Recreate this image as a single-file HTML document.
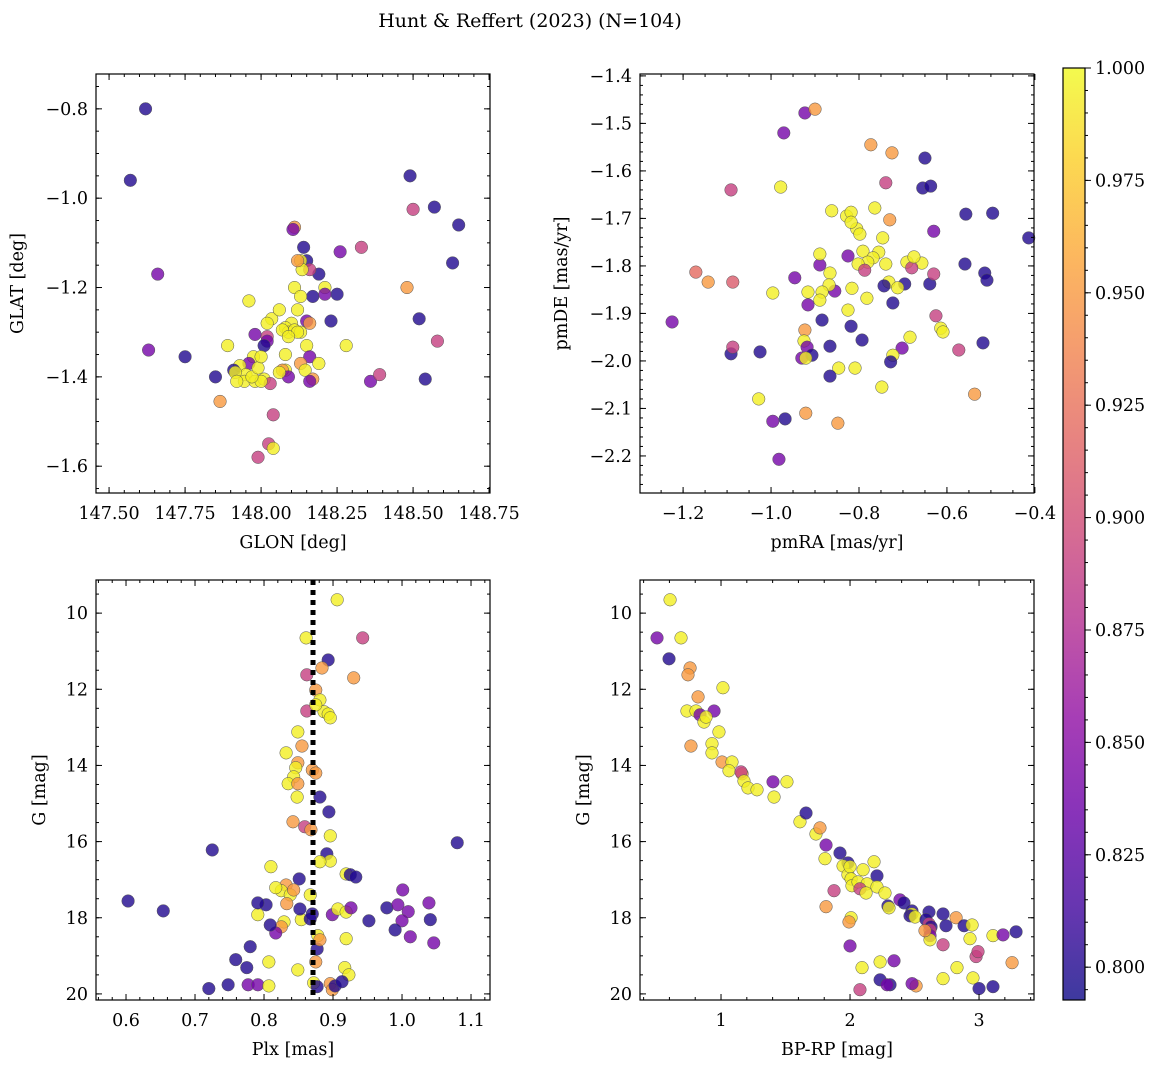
<!DOCTYPE html>
<html><head><meta charset="utf-8"><style>
body{margin:0;background:#fff;}
svg text{font-family:"DejaVu Serif","Liberation Serif",serif;fill:#000;}
</style></head><body>
<svg id="fig" width="1160" height="1068" xmlns="http://www.w3.org/2000/svg">
<defs>
<linearGradient id="plasmaGrad" x1="0" y1="1" x2="0" y2="0">
<stop offset="0" stop-color="#0d0887"/><stop offset="0.1" stop-color="#41049d"/><stop offset="0.2" stop-color="#6a00a8"/><stop offset="0.3" stop-color="#8f0da4"/><stop offset="0.4" stop-color="#b12a90"/><stop offset="0.5" stop-color="#cc4778"/><stop offset="0.6" stop-color="#e16462"/><stop offset="0.7" stop-color="#f2844b"/><stop offset="0.8" stop-color="#fca636"/><stop offset="0.9" stop-color="#fcce25"/><stop offset="1" stop-color="#f0f921"/>
</linearGradient>
</defs>
<text x="530" y="27" font-size="19" text-anchor="middle">Hunt &amp; Reffert (2023) (N=104)</text>
</svg>
<script>
// ---- data (value arrays) ----
const skyPoints=[[147.62,-0.80,0.80],[147.57,-0.96,0.80],[147.66,-1.17,0.84],[147.63,-1.34,0.84],[147.75,-1.355,0.80],[148.49,-0.95,0.80],[148.50,-1.025,0.89],[148.57,-1.02,0.80],[148.65,-1.06,0.80],[148.63,-1.145,0.80],[148.48,-1.20,0.95],[148.52,-1.27,0.80],[148.54,-1.405,0.80],[148.58,-1.32,0.89],[148.33,-1.11,0.89],[148.26,-1.12,0.84],[148.25,-1.215,0.80],[148.23,-1.275,0.80],[148.28,-1.33,0.995],[148.36,-1.41,0.84],[148.39,-1.395,0.89],[148.21,-1.20,0.995],[148.21,-1.215,0.84],[148.19,-1.17,0.80],[148.17,-1.22,0.80],[148.14,-1.11,0.80],[148.15,-1.14,0.80],[148.16,-1.16,0.89],[148.13,-1.14,0.995],[148.135,-1.16,0.995],[148.12,-1.14,0.95],[148.11,-1.065,0.95],[148.105,-1.07,0.84],[148.11,-1.20,0.995],[148.13,-1.22,0.995],[148.15,-1.275,0.84],[148.16,-1.28,0.95],[148.12,-1.25,0.995],[148.10,-1.28,0.995],[148.08,-1.29,0.995],[148.09,-1.30,0.995],[148.07,-1.295,0.995],[148.11,-1.295,0.995],[148.13,-1.30,0.995],[148.15,-1.33,0.995],[148.12,-1.30,0.995],[148.09,-1.31,0.995],[148.16,-1.355,0.84],[148.13,-1.37,0.95],[148.145,-1.385,0.995],[148.08,-1.385,0.995],[148.07,-1.385,0.95],[148.09,-1.40,0.84],[148.17,-1.405,0.95],[148.08,-1.35,0.995],[148.035,-1.27,0.995],[148.06,-1.25,0.995],[148.02,-1.28,0.995],[148.02,-1.31,0.89],[148.02,-1.32,0.84],[148.01,-1.33,0.80],[147.98,-1.305,0.84],[147.975,-1.355,0.995],[147.96,-1.37,0.84],[147.96,-1.23,0.995],[147.93,-1.375,0.995],[147.91,-1.385,0.80],[147.95,-1.395,0.995],[147.945,-1.41,0.995],[147.98,-1.41,0.995],[148.01,-1.405,0.995],[148.03,-1.415,0.89],[148.00,-1.41,0.995],[147.97,-1.40,0.995],[147.915,-1.39,0.995],[147.89,-1.33,0.995],[147.865,-1.455,0.95],[147.85,-1.40,0.80],[147.92,-1.41,0.995],[148.04,-1.485,0.89],[148.025,-1.55,0.89],[148.04,-1.56,0.995],[147.99,-1.58,0.89],[148.16,-1.41,0.84],[147.99,-1.38,0.995],[148.06,-1.39,0.995],[148.00,-1.355,0.995],[148.19,-1.37,0.995]];
const pmPoints=[[-0.923,-1.478,0.84],[-0.900,-1.470,0.95],[-0.971,-1.520,0.84],[-1.091,-1.640,0.89],[-0.978,-1.634,0.995],[-0.773,-1.545,0.95],[-0.725,-1.562,0.95],[-0.739,-1.625,0.89],[-0.650,-1.573,0.80],[-0.655,-1.636,0.80],[-0.637,-1.632,0.80],[-0.730,-1.703,0.95],[-0.764,-1.678,0.995],[-0.557,-1.691,0.80],[-0.496,-1.689,0.80],[-0.414,-1.741,0.80],[-0.630,-1.727,0.84],[-0.657,-1.794,0.995],[-0.862,-1.684,0.995],[-0.828,-1.695,0.995],[-0.818,-1.687,0.995],[-0.805,-1.722,0.995],[-0.818,-1.708,0.995],[-0.798,-1.733,0.995],[-0.791,-1.769,0.995],[-0.755,-1.771,0.995],[-0.768,-1.783,0.995],[-0.780,-1.792,0.995],[-0.802,-1.796,0.995],[-0.825,-1.779,0.84],[-0.787,-1.809,0.89],[-0.746,-1.741,0.995],[-0.739,-1.796,0.995],[-0.732,-1.834,0.995],[-0.782,-1.868,0.995],[-0.816,-1.847,0.995],[-0.855,-1.853,0.84],[-0.866,-1.815,0.995],[-0.868,-1.840,0.995],[-0.825,-1.893,0.995],[-0.889,-1.798,0.84],[-0.884,-1.855,0.995],[-0.889,-1.872,0.995],[-0.818,-1.927,0.80],[-0.743,-1.842,0.80],[-0.723,-1.878,0.80],[-0.696,-1.838,0.80],[-0.712,-1.846,0.995],[-0.691,-1.792,0.995],[-0.680,-1.804,0.89],[-0.675,-1.781,0.995],[-0.639,-1.838,0.80],[-0.630,-1.817,0.89],[-0.559,-1.796,0.80],[-0.514,-1.815,0.80],[-0.509,-1.830,0.80],[-0.625,-1.905,0.89],[-0.614,-1.931,0.995],[-0.609,-1.939,0.995],[-0.684,-1.950,0.995],[-0.702,-1.973,0.84],[-0.723,-1.988,0.995],[-0.728,-2.002,0.80],[-0.748,-2.055,0.995],[-0.518,-1.962,0.80],[-0.573,-1.977,0.89],[-0.537,-2.070,0.95],[-0.793,-1.956,0.80],[-0.809,-2.015,0.995],[-0.846,-2.015,0.995],[-0.866,-1.969,0.80],[-0.866,-2.032,0.80],[-0.884,-1.914,0.80],[-0.916,-1.855,0.995],[-0.916,-1.882,0.84],[-0.923,-1.935,0.95],[-0.925,-1.958,0.995],[-0.918,-1.971,0.84],[-0.907,-1.988,0.80],[-0.930,-1.994,0.84],[-0.921,-1.994,0.995],[-0.848,-2.131,0.95],[-0.921,-2.110,0.95],[-1.028,-2.080,0.995],[-0.968,-2.122,0.80],[-0.996,-2.127,0.84],[-0.982,-2.207,0.84],[-1.225,-1.918,0.84],[-1.171,-1.813,0.92],[-1.143,-1.834,0.95],[-1.087,-1.834,0.91],[-1.091,-1.985,0.80],[-1.087,-1.971,0.89],[-1.025,-1.981,0.80],[-0.996,-1.857,0.995],[-0.946,-1.825,0.84],[-0.889,-1.775,0.995]];
const plxPoints=[[0.906,9.65,0.995],[0.861,10.65,0.995],[0.893,11.23,0.80],[0.943,10.65,0.89],[0.930,11.70,0.95],[0.862,11.62,0.89],[0.884,11.44,0.95],[0.875,12.02,0.95],[0.881,12.28,0.995],[0.887,12.59,0.995],[0.893,12.65,0.995],[0.896,12.75,0.995],[0.862,12.57,0.89],[0.875,12.41,0.995],[0.849,13.12,0.995],[0.855,13.49,0.95],[0.832,13.67,0.995],[0.849,13.93,0.95],[0.846,14.06,0.995],[0.843,14.30,0.995],[0.835,14.48,0.995],[0.849,14.48,0.95],[0.870,14.12,0.95],[0.875,14.20,0.95],[0.848,14.83,0.995],[0.881,14.83,0.80],[0.894,15.22,0.80],[0.842,15.48,0.95],[0.859,15.61,0.89],[0.868,15.69,0.95],[0.896,15.85,0.995],[0.891,16.32,0.80],[0.896,16.51,0.995],[0.881,16.53,0.995],[0.919,16.85,0.995],[0.925,16.87,0.80],[0.933,16.93,0.80],[0.725,16.22,0.80],[1.080,16.03,0.80],[0.810,16.66,0.995],[0.851,16.98,0.80],[0.832,17.14,0.95],[0.825,17.29,0.995],[0.838,17.40,0.995],[0.843,17.27,0.95],[0.817,17.21,0.995],[0.803,17.66,0.80],[0.833,17.63,0.95],[0.867,17.40,0.995],[0.854,18.05,0.995],[0.829,18.11,0.995],[0.825,18.24,0.95],[0.817,18.40,0.84],[0.809,18.19,0.80],[0.791,17.92,0.995],[0.791,17.61,0.80],[0.852,17.77,0.80],[0.870,17.90,0.80],[0.899,17.92,0.84],[0.907,17.77,0.995],[0.919,17.85,0.995],[0.926,17.74,0.84],[0.919,18.55,0.995],[0.878,18.47,0.995],[0.867,18.03,0.80],[0.877,18.82,0.80],[0.881,18.58,0.95],[0.875,19.16,0.95],[0.917,19.31,0.995],[0.923,19.50,0.995],[0.603,17.56,0.80],[0.654,17.82,0.80],[0.952,18.08,0.80],[0.978,17.74,0.80],[0.994,17.66,0.84],[1.001,17.27,0.84],[1.009,17.84,0.84],[1.000,18.08,0.84],[1.012,18.50,0.84],[0.990,18.32,0.80],[1.039,17.61,0.84],[1.041,18.05,0.80],[1.046,18.66,0.84],[0.780,18.76,0.80],[0.807,19.16,0.995],[0.759,19.10,0.80],[0.775,19.31,0.80],[0.777,19.76,0.84],[0.791,19.76,0.84],[0.807,19.79,0.995],[0.849,19.37,0.995],[0.872,19.71,0.995],[0.896,19.73,0.95],[0.899,19.89,0.95],[0.903,19.79,0.80],[0.913,19.68,0.80],[0.748,19.76,0.80],[0.720,19.86,0.80],[0.877,19.81,0.80]];
const cmdPoints=[[0.605,9.65,0.995],[0.504,10.65,0.84],[0.597,11.20,0.80],[0.690,10.65,0.995],[0.760,11.44,0.95],[0.744,11.62,0.95],[0.822,12.20,0.95],[0.736,12.57,0.995],[0.806,12.57,0.995],[0.837,12.67,0.84],[0.946,12.57,0.84],[0.868,12.86,0.995],[0.884,12.73,0.995],[0.767,13.49,0.95],[1.015,11.96,0.995],[0.984,13.12,0.995],[0.930,13.43,0.995],[0.930,13.67,0.995],[1.008,13.91,0.95],[1.085,13.91,0.995],[1.062,14.14,0.995],[1.163,14.22,0.95],[1.155,14.17,0.89],[1.178,14.41,0.995],[1.209,14.59,0.995],[1.279,14.64,0.995],[1.403,14.43,0.84],[1.511,14.43,0.995],[1.411,14.83,0.995],[1.612,15.48,0.995],[1.659,15.25,0.80],[1.736,15.80,0.995],[1.767,15.64,0.95],[1.814,16.09,0.84],[1.922,16.30,0.80],[1.806,16.45,0.995],[1.984,16.56,0.80],[1.946,16.64,0.995],[1.984,16.87,0.995],[2.000,16.66,0.995],[2.008,16.98,0.995],[2.101,16.74,0.995],[2.015,17.16,0.995],[2.062,17.06,0.995],[2.132,17.11,0.995],[2.186,16.53,0.995],[2.209,16.90,0.80],[2.209,17.19,0.995],[2.077,17.24,0.89],[1.876,17.29,0.89],[1.814,17.71,0.95],[2.124,17.35,0.995],[2.271,17.35,0.995],[2.294,17.69,0.80],[2.302,17.74,0.995],[2.387,17.53,0.84],[2.418,17.61,0.80],[2.480,17.82,0.80],[2.480,17.90,0.995],[2.465,17.95,0.80],[2.504,17.98,0.995],[2.612,17.85,0.80],[2.589,18.05,0.80],[2.612,18.16,0.89],[2.628,18.24,0.80],[2.620,18.32,0.89],[2.620,18.47,0.84],[2.620,18.58,0.995],[2.581,18.34,0.95],[2.721,17.90,0.80],[2.744,18.21,0.80],[2.721,18.71,0.89],[2.822,18.00,0.95],[2.884,18.21,0.80],[2.946,18.19,0.995],[2.977,19.02,0.89],[2.930,18.55,0.995],[3.108,18.47,0.995],[3.186,18.45,0.84],[3.287,18.37,0.80],[2.992,18.89,0.89],[2.829,19.31,0.995],[2.721,19.60,0.995],[2.953,19.58,0.995],[3.256,19.18,0.95],[3.108,19.81,0.80],[3.000,19.86,0.80],[2.008,18.00,0.995],[1.992,18.11,0.95],[2.000,18.74,0.84],[2.233,19.16,0.995],[2.341,19.13,0.84],[2.093,19.31,0.995],[2.233,19.63,0.80],[2.310,19.76,0.80],[2.287,19.76,0.84],[2.512,19.79,0.95],[2.481,19.73,0.84],[2.077,19.89,0.89]];
const meanPlx=0.871;
const skyXTicks=[147.50,147.75,148.00,148.25,148.50,148.75];
const skyYTicks=[-0.8,-1.0,-1.2,-1.4,-1.6];
const pmXTicks=[-1.2,-1.0,-0.8,-0.6,-0.4];
const pmYTicks=[-1.4,-1.5,-1.6,-1.7,-1.8,-1.9,-2.0,-2.1,-2.2];
const plxXTicks=[0.6,0.7,0.8,0.9,1.0,1.1];
const magTicks=[10,12,14,16,18,20];
const colTicks=[1,2,3];
const cbTicks=[0.800,0.825,0.850,0.875,0.900,0.925,0.950,0.975,1.000];
const probMin=0.7927, probMax=1.0;

const NS="http://www.w3.org/2000/svg";
const svg=document.getElementById('fig');
const FS=17.5;
function mk(tag,attrs,parent){const e=document.createElementNS(NS,tag);for(const k in attrs)e.setAttribute(k,attrs[k]);(parent||svg).appendChild(e);return e;}
const stops=[[13,8,135],[65,4,157],[106,0,168],[143,13,164],[177,42,144],[204,71,120],[225,100,98],[242,132,75],[252,166,54],[252,206,37],[240,249,33]];
function plasma(v){let t=(v-probMin)/(probMax-probMin);t=Math.max(0,Math.min(1,t))*10;const i=Math.min(9,Math.floor(t)),f=t-i;const a=stops[i],b=stops[i+1];return 'rgb('+a.map((c,j)=>Math.round(c+(b[j]-c)*f)).join(',')+')';}

function panel(o){
  const g=mk('g',{});
  
  
  const sx=v=>o.x0+(v-o.xmin)/(o.xmax-o.xmin)*o.w;
  const sy=v=>o.y0+(o.ytop-v)/(o.ytop-o.ybot)*o.h;
  const pg=mk('g',{},g);
  o.data.forEach(d=>{
    const c=mk('circle',{cx:sx(d[0]),cy:sy(d[1]),r:6.3,fill:plasma(d[2]),'fill-opacity':0.8,stroke:'#555','stroke-width':0.5},pg);
    
    
  });
  if(o.vline!==undefined){
    const l=mk('line',{x1:sx(o.vline),x2:sx(o.vline),y1:o.y0,y2:o.y0+o.h,stroke:'#000','stroke-width':5,'stroke-dasharray':'5,5'},g);
    
    
  }
  const fr=mk('rect',{x:o.x0,y:o.y0,width:o.w,height:o.h,fill:'none',stroke:'#000','stroke-width':1.2},g);
  
  
  const tg=mk('g',{stroke:'#000','stroke-width':1},g);
  for(let v=Math.ceil(Math.min(o.xmin,o.xmax)/o.xminor-1e-6)*o.xminor;v<=Math.max(o.xmin,o.xmax)+1e-9;v+=o.xminor){const x=sx(v);mk('line',{x1:x,x2:x,y1:o.y0+o.h,y2:o.y0+o.h-3},tg);mk('line',{x1:x,x2:x,y1:o.y0,y2:o.y0+3},tg);}
  const ylo=Math.min(o.ytop,o.ybot),yhi=Math.max(o.ytop,o.ybot);
  for(let v=Math.ceil(ylo/o.yminor-1e-6)*o.yminor;v<=yhi+1e-9;v+=o.yminor){const y=sy(v);mk('line',{x1:o.x0,x2:o.x0+3,y1:y,y2:y},tg);mk('line',{x1:o.x0+o.w,x2:o.x0+o.w-3,y1:y,y2:y},tg);}
  o.xt.forEach(v=>{const x=sx(v);mk('line',{x1:x,x2:x,y1:o.y0+o.h,y2:o.y0+o.h-6},tg);mk('line',{x1:x,x2:x,y1:o.y0,y2:o.y0+6},tg);
    const t=mk('text',{x:x,y:o.y0+o.h+26,'font-size':FS,'text-anchor':'middle'},g);t.textContent=o.xf(v);
    });
  o.yt.forEach(v=>{const y=sy(v);mk('line',{x1:o.x0,x2:o.x0+6,y1:y,y2:y},tg);mk('line',{x1:o.x0+o.w,x2:o.x0+o.w-6,y1:y,y2:y},tg);
    const t=mk('text',{x:o.x0-8,y:y+6,'font-size':FS,'text-anchor':'end'},g);t.textContent=o.yf(v);
    });
  const xl=mk('text',{x:o.x0+o.w/2,y:o.y0+o.h+55,'font-size':FS,'text-anchor':'middle'},g);xl.textContent=o.xlab;
  
  const yl=mk('text',{x:0,y:0,'font-size':FS,'text-anchor':'middle',transform:'translate('+o.ylx+','+(o.y0+o.h/2)+') rotate(-90)'},g);yl.textContent=o.ylab;
  
}
const minus=s=>s.replace('-','\u2212');
panel({name:'sky-position-panel',x0:96,y0:74,w:394,h:419,xmin:147.457,xmax:148.753,ytop:-0.722,ybot:-1.66,data:skyPoints,xt:skyXTicks,yt:skyYTicks,xminor:0.05,yminor:0.05,xf:v=>v.toFixed(2),yf:v=>minus(v.toFixed(1)),xlab:'GLON [deg]',ylab:'GLAT [deg]',ylx:23});
panel({name:'proper-motion-panel',x0:640,y0:74,w:394,h:419,xmin:-1.298,xmax:-0.402,ytop:-1.396,ybot:-2.278,data:pmPoints,xt:pmXTicks,yt:pmYTicks,xminor:0.05,yminor:0.02,xf:v=>minus(v.toFixed(1)),yf:v=>minus(v.toFixed(1)),xlab:'pmRA [mas/yr]',ylab:'pmDE [mas/yr]',ylx:567});
panel({name:'parallax-magnitude-panel',x0:96,y0:580,w:394,h:420,xmin:0.5565,xmax:1.1275,ytop:9.13,ybot:20.16,data:plxPoints,xt:plxXTicks,yt:magTicks,xminor:0.02,yminor:0.5,xf:v=>v.toFixed(1),yf:v=>String(v),xlab:'Plx [mas]',ylab:'G [mag]',ylx:45,vline:meanPlx});
panel({name:'color-magnitude-panel',x0:640,y0:580,w:394,h:420,xmin:0.372,xmax:3.426,ytop:9.13,ybot:20.16,data:cmdPoints,xt:colTicks,yt:magTicks,xminor:0.2,yminor:0.5,xf:v=>String(v),yf:v=>String(v),xlab:'BP-RP [mag]',ylab:'G [mag]',ylx:589});

const cb=mk('g',{});


const cbTop=68,cbBot=1000,cbX=1063,cbW=22;
const cy=v=>cbBot-(v-probMin)/(probMax-probMin)*(cbBot-cbTop);
mk('rect',{x:cbX,y:cbTop,width:cbW,height:cbBot-cbTop,fill:'url(#plasmaGrad)','fill-opacity':0.8},cb);
mk('rect',{x:cbX,y:cbTop,width:cbW,height:cbBot-cbTop,fill:'none',stroke:'#000','stroke-width':1.2},cb);
for(let v=0.795;v<=1.0001;v+=0.005){const y=cy(v);mk('line',{x1:cbX+cbW,x2:cbX+cbW+3,y1:y,y2:y,stroke:'#000'},cb);}
cbTicks.forEach(v=>{const y=cy(v);mk('line',{x1:cbX+cbW,x2:cbX+cbW+6,y1:y,y2:y,stroke:'#000'},cb);
  const t=mk('text',{x:cbX+cbW+10,y:y+6,'font-size':FS},cb);t.textContent=v.toFixed(3);
  });
</script>
</body></html>
